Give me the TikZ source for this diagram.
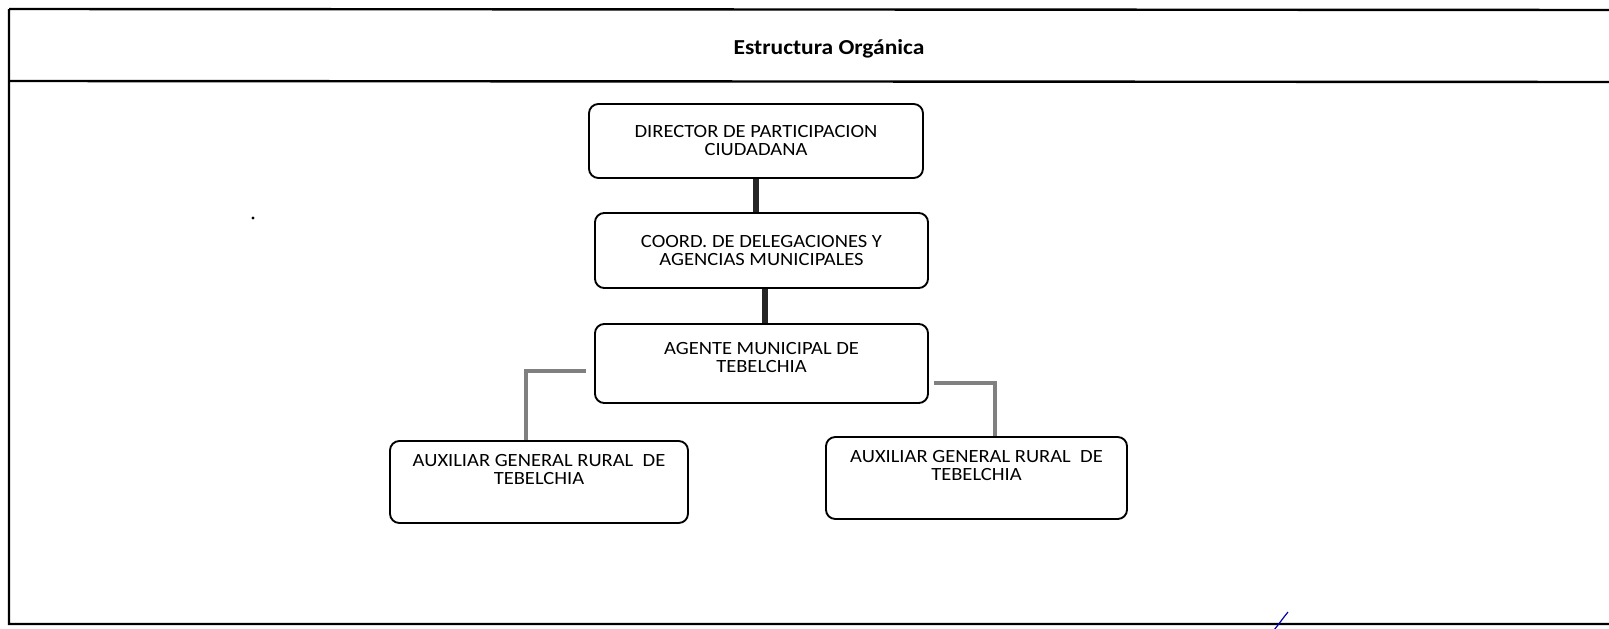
\documentclass[tikz,border=0pt]{standalone}
\usepackage{fontspec}
\setmainfont{Carlito}[FakeStretch=1.1]
\usetikzlibrary{positioning}
\tikzstyle{orgbox} = [rectangle, rounded corners=7pt, draw=black, line width=1.4pt, fill=white, align=center, inner sep=0pt, font=\fontsize{14}{13.5}\selectfont]
\tikzstyle{mainline} = [line width=3.8pt, draw=black!85]
\tikzstyle{sideline} = [line width=3.6pt, draw=black!50]

\begin{document}
\begin{tikzpicture}[x=0.75pt,y=-0.75pt]
\clip (0,0) rectangle (1609,628);
\useasboundingbox (0,0) rectangle (1609,628);
\fill[white] (0,0) rectangle (1609,628);

%%% frame %%%%%%%%%%%%%%%%%%%%%%%%%%
\draw[line width=1.8pt] (9,9) -- (1620,10) (9,9) -- (9,624) -- (1620,624);
\draw[line width=1.8pt] (9,81) -- (1620,82);
\node (title) at (829,49) {\fontsize{16}{18}\selectfont\bfseries Estructura Orgánica};

%%% boxes %%%%%%%%%%%%%%%%%%%%%%%%%%
\node (director) [orgbox, minimum width=250.5pt, minimum height=55.5pt] at (756,141) {DIRECTOR DE PARTICIPACION\\CIUDADANA};
\node (coord) [orgbox, minimum width=249.8pt, minimum height=56.3pt] at (761.5,250.5) {COORD. DE DELEGACIONES Y\\AGENCIAS MUNICIPALES};
\node (agente) [orgbox, minimum width=249.8pt, minimum height=59.3pt] at (761.5,363.5) {AGENTE MUNICIPAL DE\\TEBELCHIA\\[-4pt]\mbox{}};
\node (auxl) [orgbox, minimum width=223.5pt, minimum height=61.5pt] at (539,482) {AUXILIAR GENERAL RURAL\ \ DE\\TEBELCHIA\\[5pt]\mbox{}};
\node (auxr) [orgbox, minimum width=225.8pt, minimum height=61.5pt] at (976.5,478) {AUXILIAR GENERAL RURAL\ \ DE\\TEBELCHIA\\[5pt]\mbox{}};

%%% drawing %%%%%%%%%%%%%%%%%%%%%%%%
\draw [mainline] (director.south) -- (director.south |- coord.north);
\draw [mainline] ([xshift=2.6pt]coord.south) -- ([xshift=2.6pt]coord.south |- agente.north);
\draw [sideline] ([xshift=-6pt,yshift=-5.6pt]agente.west) -| ([xshift=-9.75pt]auxl.north);
\draw [sideline] ([xshift=3.75pt,yshift=-14.6pt]agente.east) -| ([xshift=13.9pt]auxr.north);

% marks of the scan
\fill (253,218) circle (1.3pt);
\draw[blue!70!black, line width=0.9pt] (1274,630) .. controls (1279,624) and (1283,618) .. (1288,612);
\end{tikzpicture}
\end{document}
